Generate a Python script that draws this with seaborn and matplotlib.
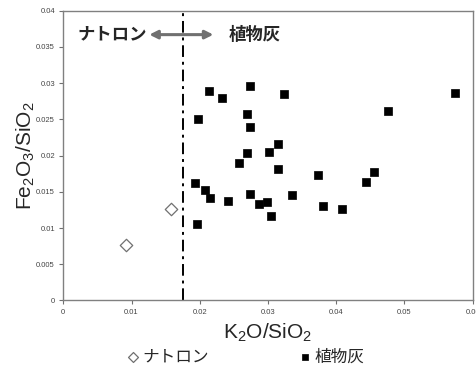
import pandas as pd
import matplotlib.pyplot as plt
import seaborn as sns
import numpy as np

# ナトロン (natron) samples
natron_x = [0.0092, 0.0158]
natron_y = [0.0076, 0.0126]

# 植物灰 (plant ash) samples
ash_x = [0.0274, 0.0214, 0.0233, 0.0323, 0.0269, 0.0198, 0.0274, 0.0315,
         0.0269, 0.0301, 0.0258, 0.0315, 0.0373, 0.0193, 0.0207, 0.0215,
         0.0273, 0.0335, 0.0242, 0.0287, 0.0298, 0.0381, 0.0305, 0.0196,
         0.0574, 0.0476, 0.0456, 0.0444, 0.0408]
ash_y = [0.0296, 0.0289, 0.0280, 0.0285, 0.0257, 0.0250, 0.0240, 0.0216,
         0.0203, 0.0205, 0.0190, 0.0181, 0.0173, 0.0162, 0.0152, 0.0142,
         0.0147, 0.0146, 0.0137, 0.0133, 0.0136, 0.0130, 0.0116, 0.0105,
         0.0287, 0.0262, 0.0177, 0.0163, 0.0126]

boundary = 0.0175
xticks = [0, 0.01, 0.02, 0.03, 0.04, 0.05, 0.06]
yticks = [0, 0.005, 0.01, 0.015, 0.02, 0.025, 0.03, 0.035, 0.04]

sns.set_style("white")
plt.rcParams['font.family'] = ['Liberation Sans', 'Noto Sans CJK JP']
plt.rcParams['mathtext.default'] = 'regular'

fig = plt.figure(figsize=(4.76, 3.70), dpi=100)
ax = fig.add_axes([0.133, 0.188, 0.860, 0.783])

sns.scatterplot(x=natron_x, y=natron_y, marker='D', s=40, facecolor='white',
                edgecolor='#707070', linewidth=0.9, label='ナトロン', ax=ax)
sns.scatterplot(x=ash_x, y=ash_y, marker='s', s=30, color='black',
                edgecolor='black', linewidth=0.5, label='植物灰', ax=ax)

ax.axvline(boundary, color='black', linestyle=(0, (6, 2.5, 1.5, 2.5)), linewidth=1.4)

ax.annotate('', xy=(0.0126, 0.0367), xytext=(0.0220, 0.0367),
            arrowprops=dict(arrowstyle='<|-|>', color='#707070', lw=2.2,
                            mutation_scale=12, shrinkA=0, shrinkB=0))
ax.text(0.0122, 0.0367, 'ナトロン', ha='right', va='center', fontsize=12.5, fontweight='bold')
ax.text(0.0243, 0.0367, '植物灰', ha='left', va='center', fontsize=12.5, fontweight='bold')

ax.set_xlim(0, 0.06)
ax.set_ylim(0, 0.04)
ax.set_xticks(xticks)
ax.set_yticks(yticks)
ax.set_xticklabels([f'{t:g}' for t in xticks])
ax.set_yticklabels([f'{t:g}' for t in yticks])
ax.tick_params(axis='both', which='major', labelsize=5.5, labelcolor='#444444',
               direction='out', length=3, width=0.8, color='#707070', pad=3,
               left=True, bottom=True)
for side in ax.spines.values():
    side.set_color('#808080')
    side.set_linewidth(1.0)

ax.set_xlabel(r'K$_2$O/SiO$_2$', fontsize=15)
ax.set_ylabel(r'Fe$_2$O$_3$/SiO$_2$', fontsize=15)
ax.xaxis.set_label_coords(0.5, -0.075)
ax.yaxis.set_label_coords(-0.065, 0.5)

handles, labels = ax.get_legend_handles_labels()
ax.get_legend().remove()
fig.legend(handles, labels, loc='center', bbox_to_anchor=(0.515, 0.035), ncol=2,
           frameon=False, fontsize=12, handlelength=0.8, handletextpad=0.15,
           columnspacing=5.4, markerscale=0.8)

fig.savefig('out.png', dpi=100)
